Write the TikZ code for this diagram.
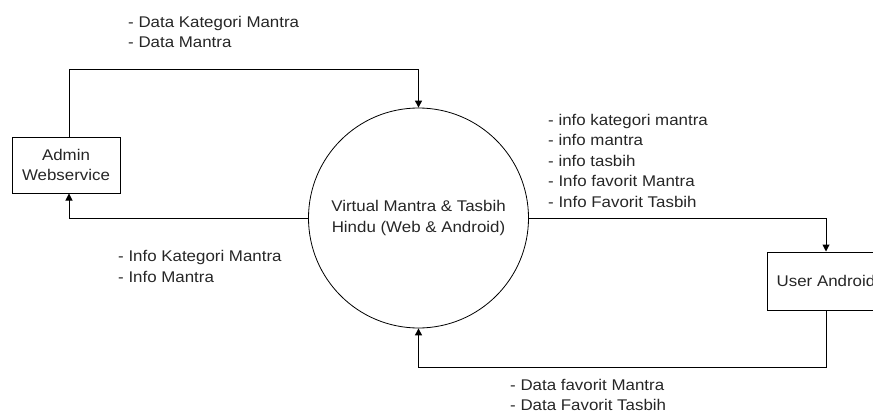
\documentclass[tikz,border=0pt]{standalone}
\usepackage{fontspec}
\setmainfont[FakeStretch=1.09]{Liberation Sans}
\usetikzlibrary{arrows.meta}
\begin{document}
\begin{tikzpicture}[x=1pt,y=-1pt,
  txt/.style={font=\fontsize{15.5}{20.5}\selectfont, text=black!85},
  lbl/.style={txt, anchor=west, align=left, inner sep=0pt},
  ent/.style={txt, draw, line width=1pt, align=center, inner sep=0pt},
  proc/.style={txt, draw, line width=0.8pt, circle, align=center, inner sep=0pt, minimum size=220pt},
  flow/.style={line width=1pt, -{Triangle[length=7pt,width=7pt]}}]
\useasboundingbox (0,0) rectangle (873,412);
\node[proc] (p) at (418.5,218) {Virtual Mantra \& Tasbih\\Hindu (Web \& Android)};
\node[ent, minimum width=108pt, minimum height=56pt] (a) at (66,165) {Admin\\Webservice};
\node[ent, minimum width=118pt, minimum height=58pt] (u) at (826,281) {User Android};
\draw[flow] ([xshift=3pt]a.north) -- ++(0,-67) -| (p.north);
\draw[flow] (p.west) -| ([xshift=3pt]a.south);
\draw[flow] (p.east) -| (u.north);
\draw[flow] (u.south) -- ++(0,57) -| (p.south);
\node[lbl] (l1) at (128,32) {- Data Kategori Mantra\\- Data Mantra};
\node[lbl] (l2) at (548,160.5) {- info kategori mantra\\- info mantra\\- info tasbih\\- Info favorit Mantra\\- Info Favorit Tasbih};
\node[lbl] (l3) at (118,266.5) {- Info Kategori Mantra\\- Info Mantra};
\node[lbl] (l4) at (510,395) {- Data favorit Mantra\\- Data Favorit Tasbih};
\end{tikzpicture}
\end{document}
